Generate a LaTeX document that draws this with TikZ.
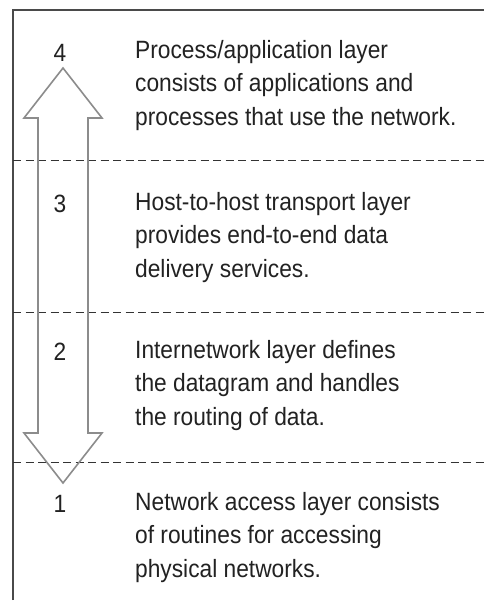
\documentclass[tikz,border=0pt]{standalone}
\usepackage{fontspec}
\setmainfont{Liberation Sans}[FakeStretch=0.91]
\definecolor{txt}{HTML}{222222}
\definecolor{frame}{HTML}{4A4A4A}
\definecolor{arrowc}{HTML}{8C8C8C}
\definecolor{sep}{HTML}{333333}
\tikzset{
  layertext/.style={anchor=north west, inner sep=0pt, align=left, text=txt,
    font=\fontsize{25}{33.5}\selectfont},
  layernum/.style={anchor=base, inner sep=0pt, text=txt, font=\fontsize{25}{30}\selectfont},
  sepline/.style={draw=sep, line width=1pt, dash pattern=on 8pt off 4.5pt},
  framestyle/.style={draw=frame, line width=1.8pt},
  bigarrow/.style={draw=arrowc, line width=1.6pt, line join=miter}
}
\begin{document}
\begin{tikzpicture}[x=1pt,y=-1pt]
\useasboundingbox[fill=white] (0,0) rectangle (484,606);
% frame
\coordinate (fl) at (13,600);
\coordinate (fc) at (13,10);
\coordinate (fr) at (484,10);
\draw[framestyle] (fl) -- (fc) -- (fr);
% separators
\coordinate (s1a) at (13,160); \coordinate (s1b) at (484,160);
\coordinate (s2a) at (13,312); \coordinate (s2b) at (484,312);
\coordinate (s3a) at (13,462); \coordinate (s3b) at (484,462);
\draw[sepline] (s1a) -- (s1b);
\draw[sepline] (s2a) -- (s2b);
\draw[sepline] (s3a) -- (s3b);
% double-headed block arrow
\draw[bigarrow] (38,433) -- (38,118) -- (24,118) -- (63,68) -- (102,118) -- (88,118)
  -- (88,433) -- (102,433) -- (63,483) -- (24,433) -- cycle;
% numbers
\node[layernum] (n4) at (60,61) {4};
\node[layernum] (n3) at (60,212) {3};
\node[layernum] (n2) at (60,360) {2};
\node[layernum] (n1) at (60,512) {1};
% texts
\node[layertext] (t4) at (135,40) {Process/application layer\\consists of applications and\\processes that use the network.};
\node[layertext] (t3) at (135,192) {Host-to-host transport layer\\provides end-to-end data\\delivery services.};
\node[layertext] (t2) at (135,340) {Internetwork layer defines\\the datagram and handles\\the routing of data.};
\node[layertext] (t1) at (135,492) {Network access layer consists\\of routines for accessing\\physical networks.};
\end{tikzpicture}
\end{document}
